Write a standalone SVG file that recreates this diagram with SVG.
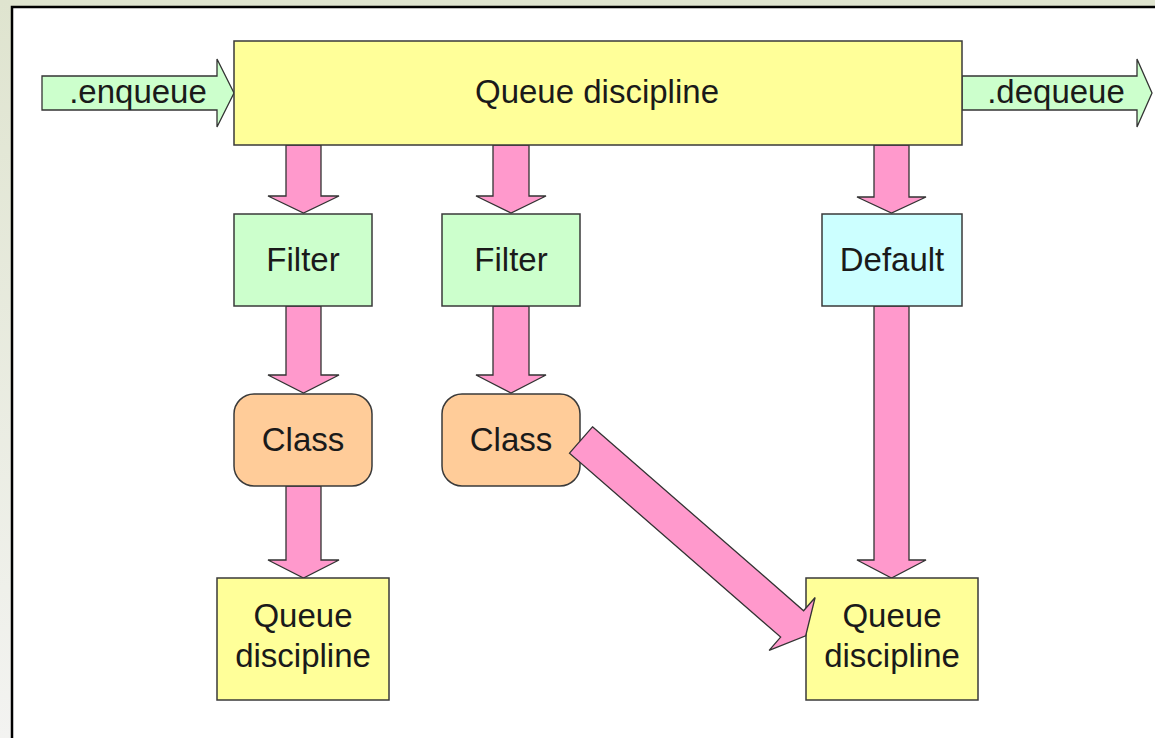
<svg xmlns="http://www.w3.org/2000/svg" width="1155" height="738" viewBox="0 0 1155 738">
<defs>
<linearGradient id="bg" x1="0" y1="0" x2="0" y2="1">
<stop offset="0" stop-color="#dfe4cf"/>
<stop offset="1" stop-color="#f3f3f1"/>
</linearGradient>
<style>
.box{stroke:#3a3a3a;stroke-width:1.5}
.qd{fill:#ffff99}
.flt{fill:#ccffcc}
.def{fill:#ccffff}
.cls{fill:#ffcc99}
.pink{fill:#ff99cc;stroke:#333;stroke-width:1.3;stroke-linejoin:miter}
.green{fill:#ccffcc;stroke:#333;stroke-width:1.3}
text{font-family:"Liberation Sans",Arial,sans-serif;font-size:33px;fill:#1a1a1a;text-anchor:middle}
</style>
</defs>
<rect x="0" y="0" width="1155" height="738" fill="url(#bg)"/>
<rect x="12" y="7" width="1160" height="750" fill="#ffffff" stroke="#000" stroke-width="2.5"/>

<g id="connectors">
<path id="enqueue-arrow" class="green" d="M42,76 H217 V59 L234,93 L217,127 V110 H42 Z"/>
<path id="dequeue-arrow" class="green" d="M962,76 H1137 V59 L1152,93 L1137,127 V110 H962 Z"/>
<path class="pink" d="M286,145 V196 H268 L303.5,213 L339,196 H321 V145 Z"/>
<path class="pink" d="M493,145 V196 H476 L511,213 L546,196 H529 V145 Z"/>
<path class="pink" d="M874,145 V197 H857 L891.5,213 L926,197 H909 V145 Z"/>
<path class="pink" d="M286,306 V375 H268 L303.5,393 L339,375 H321 V306 Z"/>
<path class="pink" d="M493,306 V375 H476 L511,393 L546,375 H529 V306 Z"/>
<path class="pink" d="M286,486 V560 H268 L303.5,578 L339,560 H321 V486 Z"/>
<path class="pink" d="M874,306 V560 H857 L891.5,578 L926,560 H909 V306 Z"/>
</g>

<g id="enqueue-label"><text x="138" y="103">.enqueue</text></g>
<g id="dequeue-label"><text x="1056" y="103">.dequeue</text></g>

<g id="root-qdisc">
<rect class="box qd" x="234" y="41" width="728" height="104"/>
<text x="597" y="103">Queue discipline</text>
</g>
<g id="filter1">
<rect class="box flt" x="234" y="214" width="138" height="92"/>
<text x="303" y="271">Filter</text>
</g>
<g id="filter2">
<rect class="box flt" x="442" y="214" width="138" height="92"/>
<text x="511" y="271">Filter</text>
</g>
<g id="default">
<rect class="box def" x="822" y="214" width="140" height="92"/>
<text x="892" y="271">Default</text>
</g>
<g id="class1">
<rect class="box cls" x="234" y="394" width="138" height="92" rx="20" ry="20"/>
<text x="303" y="451">Class</text>
</g>
<g id="class2">
<rect class="box cls" x="442" y="394" width="138" height="92" rx="20" ry="20"/>
<text x="511" y="451">Class</text>
</g>
<g id="qdisc1">
<rect class="box qd" x="217" y="578" width="172" height="122"/>
<text x="303" y="627">Queue</text>
<text x="303" y="667">discipline</text>
</g>
<g id="qdisc2">
<rect class="box qd" x="806" y="578" width="172" height="122"/>
<text x="892" y="627">Queue</text>
<text x="892" y="667">discipline</text>
</g>

<g id="connectors-diagonal">
<path class="pink" transform="translate(581,440) rotate(41.06)" d="M0,-17.5 H280 V-35 L298,0 L280,35 V17.5 H0 Z"/>
</g>
</svg>
